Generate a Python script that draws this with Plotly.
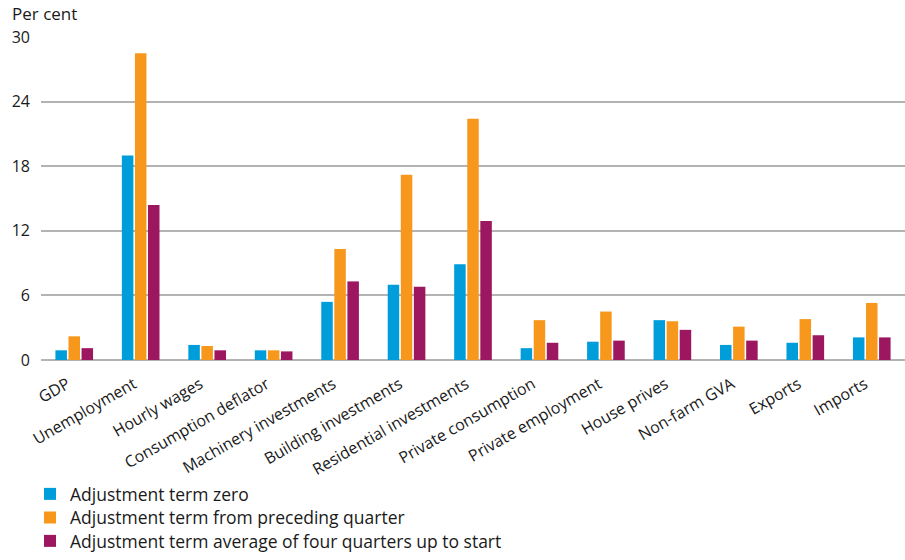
import plotly.graph_objects as go

categories = [
    "GDP", "Unemployment", "Hourly wages", "Consumption deflator",
    "Machinery investments", "Building investments", "Residential investments",
    "Private consumption", "Private employment", "House prives",
    "Non-farm GVA", "Exports", "Imports",
]
adj_zero = [0.9, 19.0, 1.4, 0.9, 5.4, 7.0, 8.9, 1.1, 1.7, 3.7, 1.4, 1.6, 2.1]
adj_preceding = [2.2, 28.5, 1.3, 0.9, 10.3, 17.2, 22.4, 3.7, 4.5, 3.6, 3.1, 3.8, 5.3]
adj_avg_four = [1.1, 14.4, 0.9, 0.8, 7.3, 6.8, 12.9, 1.6, 1.8, 2.8, 1.8, 2.3, 2.1]
y_ticks = [0, 6, 12, 18, 24, 30]

series = [
    ("Adjustment term zero", adj_zero, "#009ddb"),
    ("Adjustment term from preceding quarter", adj_preceding, "#f7981d"),
    ("Adjustment term average of four quarters up to start", adj_avg_four, "#9c1660"),
]

FONT = "Open Sans, Liberation Sans, Arial, sans-serif"
TEXT = "#1a1a1a"

# one legend box per series so the rows sit at fixed vertical positions
legend_ids = ["legend", "legend2", "legend3"]
legend_rows = [494, 517.5, 541]

fig = go.Figure()
for (name, vals, color), lid in zip(series, legend_ids):
    fig.add_trace(go.Bar(
        name=name, x=categories, y=vals, legend=lid,
        marker=dict(color=color, line=dict(width=0)),
    ))

legend_style = dict(
    xref="container", yref="container",
    x=30 / 905, xanchor="left", yanchor="middle",
    font=dict(size=17.5, color=TEXT),
    itemwidth=30, bgcolor="rgba(0,0,0,0)",
)
legend_layout = {
    lid: dict(legend_style, y=1 - row / 560)
    for lid, row in zip(legend_ids, legend_rows)
}

fig.update_layout(
    width=905, height=560,
    margin=dict(l=41, r=0, t=37, b=200, pad=0, autoexpand=False),
    paper_bgcolor="white", plot_bgcolor="white",
    barmode="group", bargap=0.41, bargroupgap=0.12,
    font=dict(family=FONT, size=15, color=TEXT),
    showlegend=True,
    annotations=[dict(
        text="Per cent", xref="paper", yref="paper",
        x=-41 / 864, y=1.0, xanchor="left", yanchor="bottom",
        yshift=10, xshift=10, showarrow=False,
        font=dict(size=17, color=TEXT),
    )],
    **legend_layout,
)

fig.update_xaxes(
    tickangle=-30, showgrid=False, showline=False, ticks="",
    range=[-0.5, 12.5], tickfont=dict(size=16, color=TEXT),
    ticklabelshift=-7, ticklabelstandoff=11, automargin=False,
)
fig.update_yaxes(
    range=[0, 30], tickvals=y_ticks, ticktext=[str(v) for v in y_ticks],
    showgrid=True, gridcolor="#b3b3b3", gridwidth=1.5,
    zeroline=True, zerolinecolor="#b3b3b3", zerolinewidth=1.5,
    showline=False, ticks="", ticklabelstandoff=10,
    tickfont=dict(size=16, color=TEXT), automargin=False,
)

fig.write_html("out.html")
